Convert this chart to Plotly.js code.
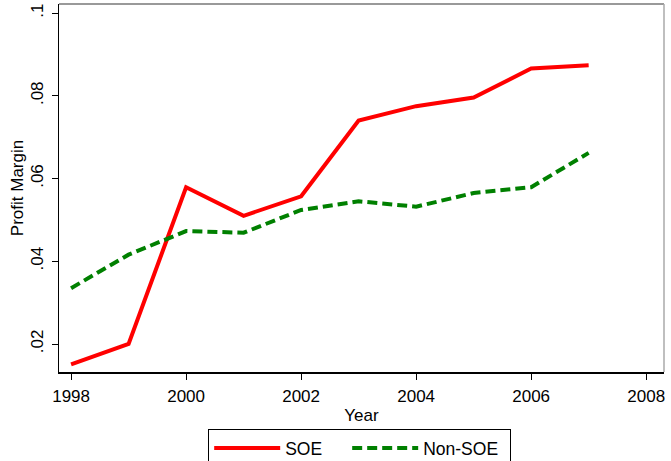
<!DOCTYPE html>
<html>
<head>
<meta charset="utf-8">
<script src="https://cdn.plot.ly/plotly-3.0.1.min.js"></script>
<style>html,body{margin:0;padding:0;background:#fff;}#chart{width:671px;height:461px;}</style>
</head>
<body>
<div id="chart"></div>
<script>
var years = [1998, 1999, 2000, 2001, 2002, 2003, 2004, 2005, 2006, 2007];
var soe = [0.0151, 0.0200, 0.0579, 0.0510, 0.0557, 0.0740, 0.0775, 0.0796, 0.0866, 0.0874];
var nonSoe = [0.0335, 0.0416, 0.0473, 0.0469, 0.0524, 0.0545, 0.0532, 0.0565, 0.0579, 0.0662];
var xTicks = [1998, 2000, 2002, 2004, 2006, 2008];
var yTicks = [0.02, 0.04, 0.06, 0.08, 0.1];
var yTickText = ['.02', '.04', '.06', '.08', '.1'];

var font = {family: 'Liberation Sans, Arial, sans-serif', size: 17, color: '#000'};

var traces = [
  {x: years, y: soe, name: 'SOE', type: 'scatter', mode: 'lines',
   legendwidth: 57,
   line: {color: '#ff0000', width: 4}},
  {x: years, y: nonSoe, name: 'Non-SOE', type: 'scatter', mode: 'lines',
   legendwidth: 82,
   line: {color: '#008000', width: 4, dash: '10px,5px'}}
];

var layout = {
  width: 671, height: 461,
  margin: {l: 59, r: 7, t: 4, b: 89, autoexpand: false},
  paper_bgcolor: '#fff', plot_bgcolor: '#fff',
  font: font,
  showlegend: true,
  legend: {
    orientation: 'h', x: 0.497, xanchor: 'center', y: -0.155, yanchor: 'top',
    bordercolor: '#000', borderwidth: 1, itemwidth: 66,
    font: {family: font.family, size: 17.5, color: '#000'},
    traceorder: 'normal'
  },
  xaxis: {
    range: [1997.79, 2008.31], tickvals: xTicks,
    showgrid: false, zeroline: false,
    showline: true, linecolor: '#000', linewidth: 1.5,
    ticks: 'outside', ticklen: 6, tickcolor: '#000', tickwidth: 1,
    ticklabelstandoff: 2,
    tickfont: font,
    title: {text: 'Year', font: font, standoff: 4}
  },
  yaxis: {
    range: [0.01323, 0.1022], tickvals: yTicks, ticktext: yTickText,
    tickangle: -90,
    showgrid: false, zeroline: false,
    showline: true, linecolor: '#000', linewidth: 1.5,
    ticks: 'outside', ticklen: 6, tickcolor: '#000', tickwidth: 1,
    ticklabelstandoff: 2,
    tickfont: font,
    title: {text: 'Profit Margin', font: font, standoff: 0}
  },
  shapes: [
    {type: 'line', xref: 'paper', yref: 'paper', x0: 0, x1: 1, y0: 1, y1: 1,
     line: {color: '#777', width: 1.5}},
    {type: 'line', xref: 'paper', yref: 'paper', x0: 1, x1: 1, y0: 0, y1: 1,
     line: {color: '#aaa', width: 1.5}}
  ]
};

Plotly.newPlot('chart', traces, layout, {displayModeBar: false, staticPlot: true});
</script>
</body>
</html>
